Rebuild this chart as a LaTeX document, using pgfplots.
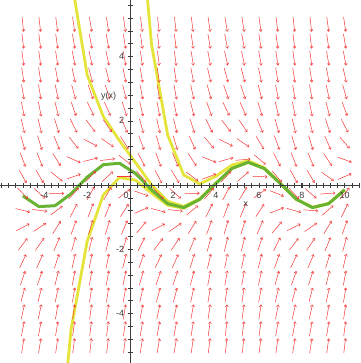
\documentclass[border=0pt]{standalone}
\usepackage{pgfplots}
\pgfplotsset{compat=1.18}
\usepackage{pgfplotstable}
\usepackage{fontspec}
\setmainfont{Liberation Sans}
\usetikzlibrary{arrows.meta}
\definecolor{arrowred}{RGB}{245,55,55}
\definecolor{solyellow}{RGB}{228,228,58}
\definecolor{solgreen}{RGB}{104,178,52}
\definecolor{axgray}{RGB}{60,60,60}

\pgfplotstableread{
x y m
-5 -5 4.04
-5 -4.474 3.52
-5 -3.947 2.99
-5 -3.421 2.46
-5 -2.895 1.94
-5 -2.368 1.41
-5 -1.842 0.88
-5 -1.316 0.36
-5 -0.789 -0.17
-5 -0.263 -0.70
-5 0.263 -1.22
-5 0.789 -1.75
-5 1.316 -2.28
-5 1.842 -2.80
-5 2.368 -3.33
-5 2.895 -3.85
-5 3.421 -4.38
-5 3.947 -4.91
-5 4.474 -5.43
-5 5 -5.96
-4.211 -5 4.12
-4.211 -4.474 3.60
-4.211 -3.947 3.07
-4.211 -3.421 2.54
-4.211 -2.895 2.02
-4.211 -2.368 1.49
-4.211 -1.842 0.97
-4.211 -1.316 0.44
-4.211 -0.789 -0.09
-4.211 -0.263 -0.61
-4.211 0.263 -1.14
-4.211 0.789 -1.67
-4.211 1.316 -2.19
-4.211 1.842 -2.72
-4.211 2.368 -3.25
-4.211 2.895 -3.77
-4.211 3.421 -4.30
-4.211 3.947 -4.82
-4.211 4.474 -5.35
-4.211 5 -5.88
-3.421 -5 4.72
-3.421 -4.474 4.20
-3.421 -3.947 3.67
-3.421 -3.421 3.15
-3.421 -2.895 2.62
-3.421 -2.368 2.09
-3.421 -1.842 1.57
-3.421 -1.316 1.04
-3.421 -0.789 0.51
-3.421 -0.263 -0.01
-3.421 0.263 -0.54
-3.421 0.789 -1.07
-3.421 1.316 -1.59
-3.421 1.842 -2.12
-3.421 2.368 -2.64
-3.421 2.895 -3.17
-3.421 3.421 -3.70
-3.421 3.947 -4.22
-3.421 4.474 -4.75
-3.421 5 -5.28
-2.632 -5 5.49
-2.632 -4.474 4.96
-2.632 -3.947 4.44
-2.632 -3.421 3.91
-2.632 -2.895 3.38
-2.632 -2.368 2.86
-2.632 -1.842 2.33
-2.632 -1.316 1.80
-2.632 -0.789 1.28
-2.632 -0.263 0.75
-2.632 0.263 0.23
-2.632 0.789 -0.30
-2.632 1.316 -0.83
-2.632 1.842 -1.35
-2.632 2.368 -1.88
-2.632 2.895 -2.41
-2.632 3.421 -2.93
-2.632 3.947 -3.46
-2.632 4.474 -3.99
-2.632 5 -4.51
-1.842 -5 5.96
-1.842 -4.474 5.44
-1.842 -3.947 4.91
-1.842 -3.421 4.38
-1.842 -2.895 3.86
-1.842 -2.368 3.33
-1.842 -1.842 2.81
-1.842 -1.316 2.28
-1.842 -0.789 1.75
-1.842 -0.263 1.23
-1.842 0.263 0.70
-1.842 0.789 0.17
-1.842 1.316 -0.35
-1.842 1.842 -0.88
-1.842 2.368 -1.41
-1.842 2.895 -1.93
-1.842 3.421 -2.46
-1.842 3.947 -2.98
-1.842 4.474 -3.51
-1.842 5 -4.04
-1.053 -5 5.87
-1.053 -4.474 5.34
-1.053 -3.947 4.82
-1.053 -3.421 4.29
-1.053 -2.895 3.76
-1.053 -2.368 3.24
-1.053 -1.842 2.71
-1.053 -1.316 2.19
-1.053 -0.789 1.66
-1.053 -0.263 1.13
-1.053 0.263 0.61
-1.053 0.789 0.08
-1.053 1.316 -0.45
-1.053 1.842 -0.97
-1.053 2.368 -1.50
-1.053 2.895 -2.03
-1.053 3.421 -2.55
-1.053 3.947 -3.08
-1.053 4.474 -3.61
-1.053 5 -4.13
-0.263 -5 5.26
-0.263 -4.474 4.73
-0.263 -3.947 4.21
-0.263 -3.421 3.68
-0.263 -2.895 3.16
-0.263 -2.368 2.63
-0.263 -1.842 2.10
-0.263 -1.316 1.58
-0.263 -0.789 1.05
-0.263 -0.263 0.52
-0.263 0.263 0.00
-0.263 0.789 -0.53
-0.263 1.316 -1.06
-0.263 1.842 -1.58
-0.263 2.368 -2.11
-0.263 2.895 -2.64
-0.263 3.421 -3.16
-0.263 3.947 -3.69
-0.263 4.474 -4.21
-0.263 5 -4.74
0.526 -5 4.50
0.526 -4.474 3.97
0.526 -3.947 3.45
0.526 -3.421 2.92
0.526 -2.895 2.39
0.526 -2.368 1.87
0.526 -1.842 1.34
0.526 -1.316 0.81
0.526 -0.789 0.29
0.526 -0.263 -0.24
0.526 0.263 -0.77
0.526 0.789 -1.29
0.526 1.316 -1.82
0.526 1.842 -2.34
0.526 2.368 -2.87
0.526 2.895 -3.40
0.526 3.421 -3.92
0.526 3.947 -4.45
0.526 4.474 -4.98
0.526 5 -5.50
1.316 -5 4.03
1.316 -4.474 3.51
1.316 -3.947 2.98
1.316 -3.421 2.45
1.316 -2.895 1.93
1.316 -2.368 1.40
1.316 -1.842 0.87
1.316 -1.316 0.35
1.316 -0.789 -0.18
1.316 -0.263 -0.71
1.316 0.263 -1.23
1.316 0.789 -1.76
1.316 1.316 -2.28
1.316 1.842 -2.81
1.316 2.368 -3.34
1.316 2.895 -3.86
1.316 3.421 -4.39
1.316 3.947 -4.92
1.316 4.474 -5.44
1.316 5 -5.97
2.105 -5 4.14
2.105 -4.474 3.61
2.105 -3.947 3.09
2.105 -3.421 2.56
2.105 -2.895 2.03
2.105 -2.368 1.51
2.105 -1.842 0.98
2.105 -1.316 0.46
2.105 -0.789 -0.07
2.105 -0.263 -0.60
2.105 0.263 -1.12
2.105 0.789 -1.65
2.105 1.316 -2.18
2.105 1.842 -2.70
2.105 2.368 -3.23
2.105 2.895 -3.76
2.105 3.421 -4.28
2.105 3.947 -4.81
2.105 4.474 -5.33
2.105 5 -5.86
2.895 -5 4.76
2.895 -4.474 4.23
2.895 -3.947 3.70
2.895 -3.421 3.18
2.895 -2.895 2.65
2.895 -2.368 2.12
2.895 -1.842 1.60
2.895 -1.316 1.07
2.895 -0.789 0.55
2.895 -0.263 0.02
2.895 0.263 -0.51
2.895 0.789 -1.03
2.895 1.316 -1.56
2.895 1.842 -2.09
2.895 2.368 -2.61
2.895 2.895 -3.14
2.895 3.421 -3.67
2.895 3.947 -4.19
2.895 4.474 -4.72
2.895 5 -5.24
3.684 -5 5.52
3.684 -4.474 4.99
3.684 -3.947 4.46
3.684 -3.421 3.94
3.684 -2.895 3.41
3.684 -2.368 2.88
3.684 -1.842 2.36
3.684 -1.316 1.83
3.684 -0.789 1.31
3.684 -0.263 0.78
3.684 0.263 0.25
3.684 0.789 -0.27
3.684 1.316 -0.80
3.684 1.842 -1.33
3.684 2.368 -1.85
3.684 2.895 -2.38
3.684 3.421 -2.91
3.684 3.947 -3.43
3.684 4.474 -3.96
3.684 5 -4.48
4.474 -5 5.97
4.474 -4.474 5.45
4.474 -3.947 4.92
4.474 -3.421 4.39
4.474 -2.895 3.87
4.474 -2.368 3.34
4.474 -1.842 2.81
4.474 -1.316 2.29
4.474 -0.789 1.76
4.474 -0.263 1.24
4.474 0.263 0.71
4.474 0.789 0.18
4.474 1.316 -0.34
4.474 1.842 -0.87
4.474 2.368 -1.40
4.474 2.895 -1.92
4.474 3.421 -2.45
4.474 3.947 -2.98
4.474 4.474 -3.50
4.474 5 -4.03
5.263 -5 5.85
5.263 -4.474 5.33
5.263 -3.947 4.80
5.263 -3.421 4.27
5.263 -2.895 3.75
5.263 -2.368 3.22
5.263 -1.842 2.69
5.263 -1.316 2.17
5.263 -0.789 1.64
5.263 -0.263 1.12
5.263 0.263 0.59
5.263 0.789 0.06
5.263 1.316 -0.46
5.263 1.842 -0.99
5.263 2.368 -1.52
5.263 2.895 -2.04
5.263 3.421 -2.57
5.263 3.947 -3.10
5.263 4.474 -3.62
5.263 5 -4.15
6.053 -5 5.23
6.053 -4.474 4.70
6.053 -3.947 4.18
6.053 -3.421 3.65
6.053 -2.895 3.12
6.053 -2.368 2.60
6.053 -1.842 2.07
6.053 -1.316 1.55
6.053 -0.789 1.02
6.053 -0.263 0.49
6.053 0.263 -0.03
6.053 0.789 -0.56
6.053 1.316 -1.09
6.053 1.842 -1.61
6.053 2.368 -2.14
6.053 2.895 -2.67
6.053 3.421 -3.19
6.053 3.947 -3.72
6.053 4.474 -4.25
6.053 5 -4.77
6.842 -5 4.47
6.842 -4.474 3.94
6.842 -3.947 3.42
6.842 -3.421 2.89
6.842 -2.895 2.37
6.842 -2.368 1.84
6.842 -1.842 1.31
6.842 -1.316 0.79
6.842 -0.789 0.26
6.842 -0.263 -0.27
6.842 0.263 -0.79
6.842 0.789 -1.32
6.842 1.316 -1.85
6.842 1.842 -2.37
6.842 2.368 -2.90
6.842 2.895 -3.43
6.842 3.421 -3.95
6.842 3.947 -4.48
6.842 4.474 -5.00
6.842 5 -5.53
7.632 -5 4.03
7.632 -4.474 3.50
7.632 -3.947 2.97
7.632 -3.421 2.45
7.632 -2.895 1.92
7.632 -2.368 1.39
7.632 -1.842 0.87
7.632 -1.316 0.34
7.632 -0.789 -0.19
7.632 -0.263 -0.71
7.632 0.263 -1.24
7.632 0.789 -1.76
7.632 1.316 -2.29
7.632 1.842 -2.82
7.632 2.368 -3.34
7.632 2.895 -3.87
7.632 3.421 -4.40
7.632 3.947 -4.92
7.632 4.474 -5.45
7.632 5 -5.98
8.421 -5 4.16
8.421 -4.474 3.63
8.421 -3.947 3.10
8.421 -3.421 2.58
8.421 -2.895 2.05
8.421 -2.368 1.53
8.421 -1.842 1.00
8.421 -1.316 0.47
8.421 -0.789 -0.05
8.421 -0.263 -0.58
8.421 0.263 -1.11
8.421 0.789 -1.63
8.421 1.316 -2.16
8.421 1.842 -2.69
8.421 2.368 -3.21
8.421 2.895 -3.74
8.421 3.421 -4.26
8.421 3.947 -4.79
8.421 4.474 -5.32
8.421 5 -5.84
9.211 -5 4.79
9.211 -4.474 4.26
9.211 -3.947 3.73
9.211 -3.421 3.21
9.211 -2.895 2.68
9.211 -2.368 2.16
9.211 -1.842 1.63
9.211 -1.316 1.10
9.211 -0.789 0.58
9.211 -0.263 0.05
9.211 0.263 -0.48
9.211 0.789 -1.00
9.211 1.316 -1.53
9.211 1.842 -2.06
9.211 2.368 -2.58
9.211 2.895 -3.11
9.211 3.421 -3.63
9.211 3.947 -4.16
9.211 4.474 -4.69
9.211 5 -5.21
10 -5 5.54
10 -4.474 5.02
10 -3.947 4.49
10 -3.421 3.97
10 -2.895 3.44
10 -2.368 2.91
10 -1.842 2.39
10 -1.316 1.86
10 -0.789 1.33
10 -0.263 0.81
10 0.263 0.28
10 0.789 -0.25
10 1.316 -0.77
10 1.842 -1.30
10 2.368 -1.82
10 2.895 -2.35
10 3.421 -2.88
10 3.947 -3.40
10 4.474 -3.93
10 5 -4.46
}\fieldtab

\begin{document}
\begin{tikzpicture}
\begin{axis}[
  width=360pt, height=363pt, scale only axis,
  xmin=-6.05, xmax=10.70, ymin=-5.53, ymax=5.75,
  axis lines=middle,
  axis line style={-, axgray, line width=0.6pt},
  axis on top,
  xtick={-4,-2,0,2,4,6,8,10},
  xticklabels={-4,-2,\llap{0\kern1.5pt},2,4,6,8,10},
  hide obscured x ticks=false,
  ytick={-4,-2,0,2,4},
  yticklabels={-4,-2,,2,4},
  minor xtick={-6,-5.6667,...,10.7},
  minor ytick={-5.2,-4.8,...,5.7},
  tick align=center,
  major tick length=5pt, minor tick length=5pt,
  tick style={axgray, line width=0.5pt},
  tick label style={font=\fontsize{9}{10}\selectfont, text=axgray},
  xticklabel style={yshift=-1pt},
  clip=true,
]
\path (rel axis cs:0,0) rectangle (rel axis cs:1,1);

\addplot[solyellow, line width=2.8pt, line join=round] coordinates {
(-3.5,13.6)(-2.75,6.456)(-2,3.423)(-1.25,2.133)(-0.5,1.387)(0.25,0.696)(1,0.007)(1.75,-0.506)(2.5,-0.665)(3.25,-0.426)(4,0.060)(4.75,0.522)(5.5,0.709)(6.25,0.517)(7,0.048)(7.75,-0.445)(8.5,-0.700)(9.25,-0.580)(10,-0.149)};
\addplot[solyellow, line width=2.8pt, line join=round] coordinates {
(0.25,9.94)(1,4.374)(1.75,1.556)(2.5,0.310)(3.25,0.034)(4,0.277)(4.75,0.624)(5.5,0.757)(6.25,0.540)(7,0.059)(7.75,-0.440)(8.5,-0.698)(9.25,-0.579)(10,-0.149)};
\addplot[solyellow, line width=2.8pt, line join=round] coordinates {
(-3.5,-9.586)(-2.75,-4.495)(-2,-1.749)(-1.25,-0.310)(-0.5,0.233)(0.25,0.151)(1,-0.250)(1.75,-0.628)(2.5,-0.722)(3.25,-0.453)(4,0.047)(4.75,0.516)(5.5,0.706)(6.25,0.516)(7,0.048)(7.75,-0.445)(8.5,-0.700)(9.25,-0.580)(10,-0.149)};
\addplot[solgreen, line width=3pt, line join=round] coordinates {
(-5,-0.338)(-4.25,-0.671)(-3.5,-0.644)(-2.75,-0.271)(-2,0.246)(-1.25,0.632)(-0.5,0.678)(0.25,0.361)(1,-0.151)(1.75,-0.581)(2.5,-0.700)(3.25,-0.443)(4,0.052)(4.75,0.518)(5.5,0.707)(6.25,0.516)(7,0.048)(7.75,-0.445)(8.5,-0.700)(9.25,-0.580)(10,-0.149)};

\addplot[arrowred, line width=0.5pt, -{Straight Barb[length=2pt,width=3pt]},
  quiver={u={0.698/sqrt(1+(1.498*\thisrow{m})^2)},
          v={0.698*\thisrow{m}/sqrt(1+(1.498*\thisrow{m})^2)}}]
  table[x expr={\thisrow{x}-0.349/sqrt(1+(1.498*\thisrow{m})^2)},
        y expr={\thisrow{y}-0.349*\thisrow{m}/sqrt(1+(1.498*\thisrow{m})^2)}] {\fieldtab};

\node[font=\fontsize{9}{10}\selectfont, text=axgray] at (axis cs:5.4,-0.6) {x};
\node[font=\fontsize{9}{10}\selectfont, text=axgray] at (axis cs:-1.0,2.75) {y(x)};
\end{axis}
\end{tikzpicture}
\end{document}
